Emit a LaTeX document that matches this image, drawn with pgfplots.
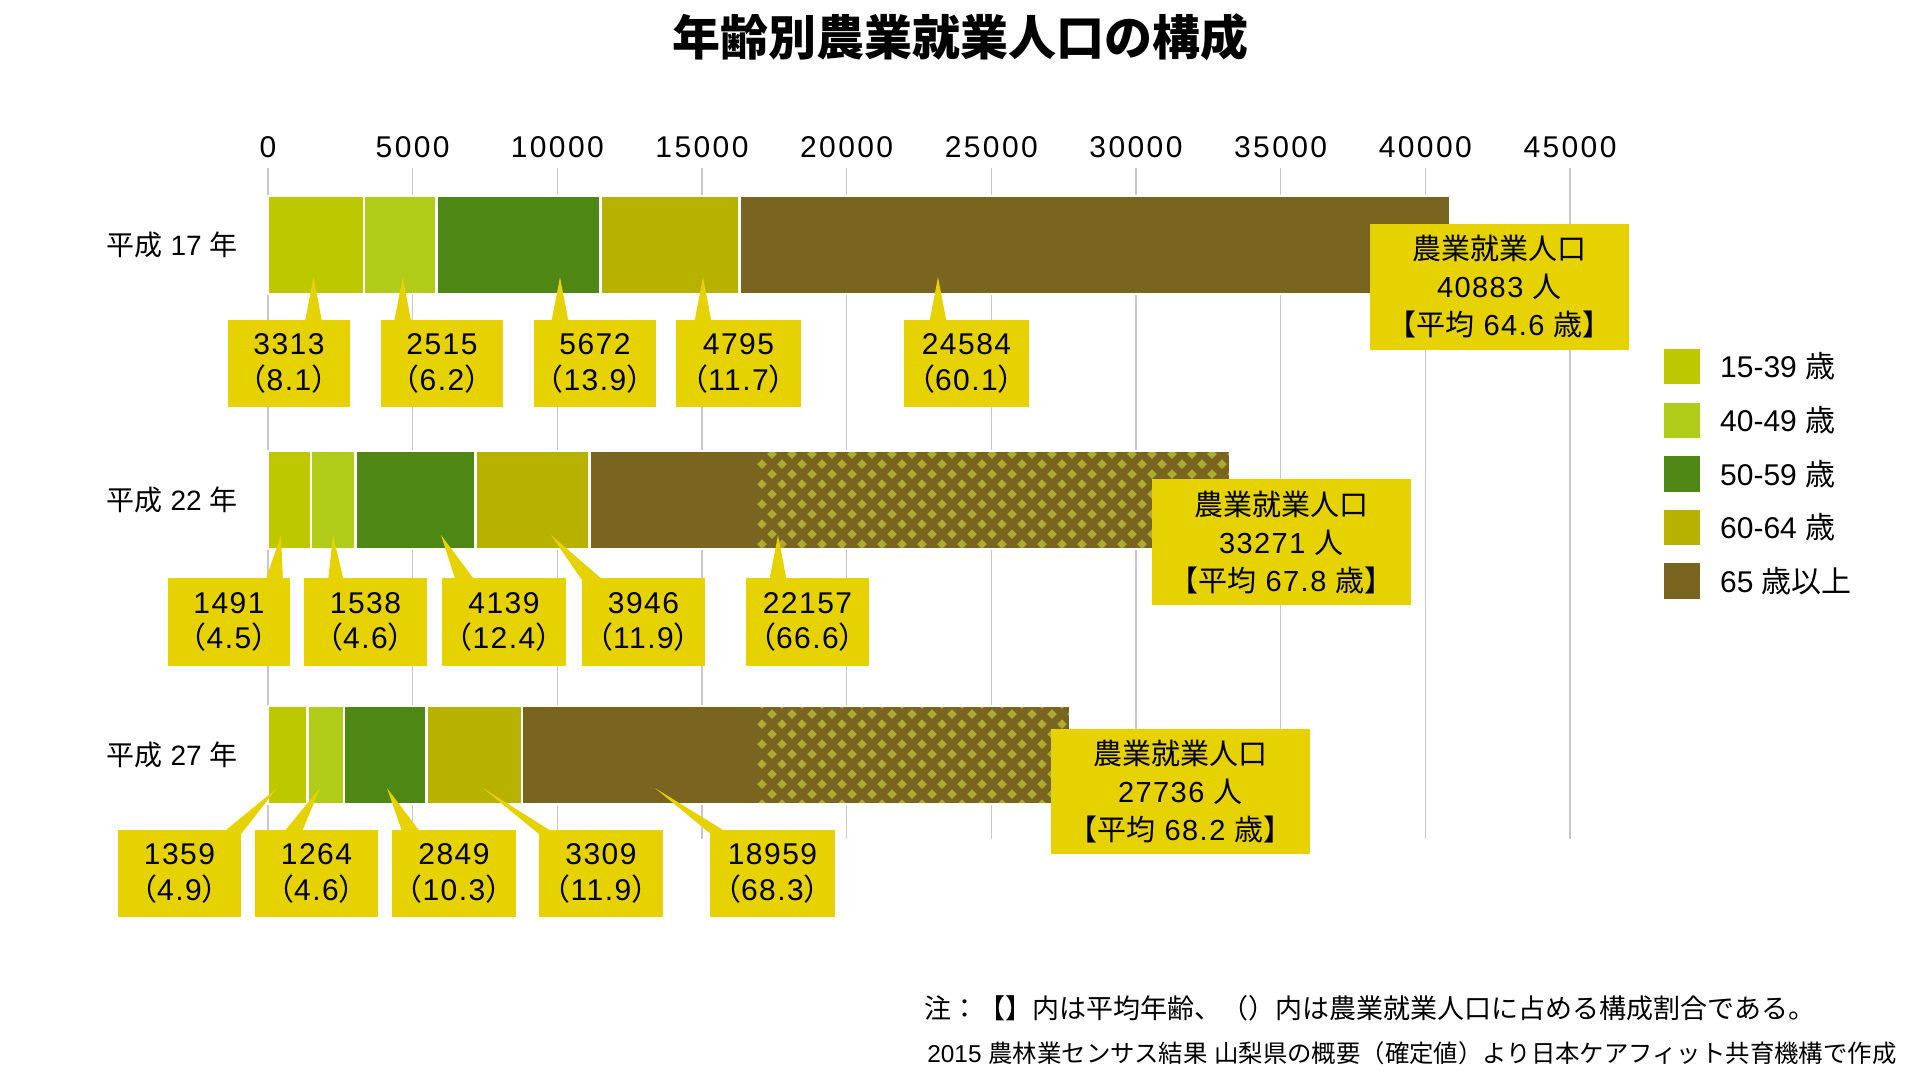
\documentclass[border=0pt]{standalone}
\usepackage{fontspec}
\setmainfont{Liberation Sans}
\newfontfamily\jp{Noto Sans CJK JP}
\newfontfamily\tickfont[LetterSpace=8]{Liberation Sans}
\newfontfamily\numfont[LetterSpace=5]{Liberation Sans}
\usepackage{pgfplots}
\pgfplotsset{compat=1.18}

\definecolor{c1bg}{RGB}{190,200,0}
\definecolor{c1fg}{RGB}{228,240,60}
\definecolor{c2bg}{RGB}{176,204,24}
\definecolor{c2fg}{RGB}{118,160,48}
\definecolor{c3bg}{RGB}{78,135,20}
\definecolor{c3fg}{RGB}{118,175,42}
\definecolor{c4bg}{RGB}{183,178,0}
\definecolor{c4fg}{RGB}{164,138,0}
\definecolor{c5bg}{RGB}{122,101,32}
\definecolor{c5fg}{RGB}{172,172,50}
\definecolor{callcol}{RGB}{230,210,0}
\definecolor{gridgray}{RGB}{200,200,200}

\newcommand\circat[3]{\pgfpathcircle{\pgfpoint{#1}{#2}}{#3}}
\newcommand\diam[3]{%
  \pgfpathmoveto{\pgfpoint{#1}{#2-#3}}%
  \pgfpathlineto{\pgfpoint{#1+#3}{#2}}%
  \pgfpathlineto{\pgfpoint{#1}{#2+#3}}%
  \pgfpathlineto{\pgfpoint{#1-#3}{#2}}%
  \pgfpathclose}

% texture fill inside a path (used as path picture of the bar style)
\newdimen\tpa \newdimen\tpb \newcount\tpn \newcount\tpm
\newcommand\tilepattern[5]{%
  \pgftransformreset
  \pgfpointanchor{path picture bounding box}{south west}\pgfgetlastxy{\tpx}{\tpy}%
  \pgfpointanchor{path picture bounding box}{north east}\pgfgetlastxy{\tpX}{\tpY}%
  \ifdim\tpx<800pt\relax
    \ifdim\tpx<#3\relax\def\tpx{#3}\fi
    \ifdim\tpX>#4\relax\def\tpX{#4}\fi
    \ifdim\tpy<-405pt\relax\def\tpy{-405pt}\fi
    \ifdim\tpY>-96pt\relax\def\tpY{-96pt}\fi
  \fi
  \tpb=\tpy \advance\tpb by -#2\relax
  \tpm=0
  \loop
    {\tpa=\tpx \advance\tpa by -#1\relax
     \tpn=0
     \loop
       \begin{pgfscope}\pgftransformshift{\pgfqpoint{\tpa}{\tpb}}#5\end{pgfscope}%
       \advance\tpa by #1\relax
       \advance\tpn by 1
     \ifnum\ifdim\tpa<\tpX 1\else 0\fi\ifnum\tpn<52 1\else 0\fi=11 \repeat}%
    \advance\tpb by #2\relax
    \advance\tpm by 1
  \ifnum\ifdim\tpb<\tpY 1\else 0\fi\ifnum\tpm<66 1\else 0\fi=11 \repeat}

\tikzset{
  texA/.style={path picture={\tilepattern{10pt}{10pt}{130pt}{186pt}{\pgfsetfillcolor{c1fg}\circat{0pt}{0pt}{2.75pt}\circat{5pt}{5pt}{2.75pt}\pgfusepath{fill}}}},
  texB/.style={path picture={\tilepattern{20pt}{20pt}{150pt}{222pt}{\pgfsetfillcolor{c2fg}\pgfpathrectangle{\pgfpoint{0pt}{0pt}}{\pgfpoint{10pt}{10pt}}\pgfpathrectangle{\pgfpoint{10pt}{10pt}}{\pgfpoint{10pt}{10pt}}\pgfusepath{fill}}}},
  texC/.style={path picture={\tilepattern{5pt}{5pt}{168pt}{304pt}{\pgfsetfillcolor{c3fg}\circat{0pt}{0pt}{1.6pt}\circat{2.5pt}{2.5pt}{1.6pt}\pgfusepath{fill}}}},
  texD/.style={path picture={\tilepattern{5pt}{60pt}{209pt}{374pt}{\pgfsetfillcolor{c4fg}\pgfpathrectangle{\pgfpoint{0pt}{0pt}}{\pgfpoint{2.2pt}{60pt}}\pgfusepath{fill}}}},
  texE/.style={path picture={\tilepattern{10pt}{10pt}{257pt}{730pt}{\pgfsetfillcolor{c5fg}\diam{0pt}{0pt}{2.4pt}\diam{5pt}{5pt}{2.4pt}\pgfusepath{fill}}}},
}

\newcommand\fs[2]{\fontsize{#1}{#2}\selectfont}
\newcommand\pct[1]{{\jp （}#1{\jp ）}}
% x1 x2 y1 y2 xc yc text
\newcommand\cbox[7]{%
  \fill[callcol] (axis cs:#1,#3) rectangle (axis cs:#2,#4);
  \node[align=center, inner sep=0pt, font=\numfont\fs{15pt}{17.8pt}] at (axis cs:#5,#6) {#7};}
\newcommand\cptr[5]{%
  \fill[callcol] (axis cs:#1,#3) -- (axis cs:#4,#5) -- (axis cs:#2,#3) -- cycle;}
\newcommand\tbox[8]{%
  \fill[callcol] (axis cs:#1,#3) rectangle (axis cs:#2,#4);
  \node[align=center, inner sep=0pt, font=\numfont\fs{14.5pt}{19pt}] at (axis cs:#5,#6)
    {{\jp 農業就業人口}\\#7 {\jp 人}\\{\jp 【平均} #8 {\jp 歳】}};}
\newcommand\lblA{{\jp 平成} 17 {\jp 年}}
\newcommand\lblB{{\jp 平成} 22 {\jp 年}}
\newcommand\lblC{{\jp 平成} 27 {\jp 年}}

\pgfplotsset{geom/.style={
  at={(134pt,-84pt)}, anchor=north west,
  scale only axis, width=651pt, height=335.5pt,
  xmin=0, xmax=45000, ymin=-0.302, ymax=2.329, y dir=reverse,
  clip=false}}

\begin{document}
\begin{tikzpicture}
\path[use as bounding box] (0pt,0pt) rectangle (960pt,-540pt);
\begin{axis}[
  geom,
  xbar stacked, bar width=49pt,
  axis line style={draw=none},
  major tick length=0pt,
  scaled x ticks=false,
  xtick={0,5000,10000,15000,20000,25000,30000,35000,40000,45000},
  xticklabels={0,5000,10000,15000,20000,25000,30000,35000,40000,45000},
  xticklabel pos=right,
  xticklabel style={font=\tickfont\fs{15pt}{15pt}, inner sep=0pt, anchor=south, yshift=5pt},
  xmajorgrids, grid style={line width=0.75pt, gridgray},
  ytick={0,1,2}, yticklabels={\lblA,\lblB,\lblC},
  yticklabel style={font=\fs{14pt}{14pt}, inner sep=0pt, anchor=east, xshift=-15pt},
  title={年齢別農業就業人口の構成},
  title style={at={(0.5315,1.1773)}, anchor=center, inner sep=0pt, font=\jp\bfseries\fs{24pt}{24pt}},
  legend style={at={(1.0700,0.7347)}, anchor=north west, draw=none, fill=none,
    inner sep=0pt, row sep=6.5pt, column sep=9pt, font=\fs{15pt}{15pt},
    nodes={inner sep=0pt}},
  legend cell align=left,
  legend image code/.code={\draw[#1] (0pt,-9.5pt) rectangle (19pt,9.5pt);},
]
\addplot[fill=c1bg, draw=none, texA, postaction={draw=white, line width=1.3pt}]
  coordinates {(3313,0) (1491,1) (1359,2)};
\addplot[fill=c2bg, draw=none, texB, postaction={draw=white, line width=1.3pt}]
  coordinates {(2515,0) (1538,1) (1264,2)};
\addplot[fill=c3bg, draw=none, texC, postaction={draw=white, line width=1.3pt}]
  coordinates {(5672,0) (4139,1) (2849,2)};
\addplot[fill=c4bg, draw=none, texD, postaction={draw=white, line width=1.3pt}]
  coordinates {(4795,0) (3946,1) (3309,2)};
\addplot[fill=c5bg, draw=none, texE, postaction={draw=white, line width=1.3pt}]
  coordinates {(24584,0) (22157,1) (18959,2)};
\legend{15-39 {\jp 歳}, 40-49 {\jp 歳}, 50-59 {\jp 歳}, 60-64 {\jp 歳}, 65 {\jp 歳以上}}
\end{axis}

\begin{axis}[geom, hide axis]
% row 1
\cptr{1261.6}{1883.7}{0.31}{1572.6}{0.1255}
\cptr{4344.3}{4966.4}{0.31}{4655.4}{0.1255}
\cptr{9781}{10403.2}{0.31}{10092.1}{0.1255}
\cptr{14723.4}{15345.5}{0.31}{15034.5}{0.1255}
\cptr{22845.5}{23467.6}{0.31}{23156.6}{0.1255}
\cbox{-1382.5}{2834.1}{0.2941}{0.6353}{725.8}{0.4647}{3313\\\pct{8.1}}
\cbox{3905.5}{8122.1}{0.2941}{0.6353}{6013.8}{0.4647}{2515\\\pct{6.2}}
\cbox{9193.5}{13410.1}{0.2941}{0.6353}{11301.8}{0.4647}{5672\\\pct{13.9}}
\cbox{14101.3}{18421.6}{0.2941}{0.6353}{16261.45}{0.4647}{4795\\\pct{11.7}}
\cbox{21981.4}{26301.7}{0.2941}{0.6353}{24141.55}{0.4647}{24584\\\pct{60.1}}
% row 2
\cptr{-103.7}{518.4}{1.32}{449.3}{1.1373}
\cptr{2073.7}{2626.7}{1.32}{2246.5}{1.1373}
\cptr{6497.7}{7188.9}{1.32}{5979.2}{1.1373}
\cptr{10887.0}{11647.4}{1.32}{9781.1}{1.1373}
\cptr{17315.6}{17937.7}{1.32}{17626.7}{1.1373}
\cbox{-3456.2}{760.0}{1.3059}{1.6510}{-1348.1}{1.4785}{1491\\\pct{4.5}}
\cbox{1244.2}{5495.4}{1.3059}{1.6510}{3369.8}{1.4785}{1538\\\pct{4.6}}
\cbox{6013.8}{10299.5}{1.3059}{1.6510}{8156.65}{1.4785}{4139\\\pct{12.4}}
\cbox{10852.5}{15103.6}{1.3059}{1.6510}{12978.05}{1.4785}{3946\\\pct{11.9}}
\cbox{16520.7}{20771.8}{1.3059}{1.6510}{18646.25}{1.4785}{22157\\\pct{66.6}}
% row 3
\cptr{-1624.4}{-933.2}{2.31}{311.0}{2.1294}
\cptr{483.8}{1140.5}{2.31}{1797.2}{2.1294}
\cptr{4665.9}{5322.6}{2.31}{4112.9}{2.1294}
\cptr{9366.3}{9953.9}{2.31}{7430.8}{2.1294}
\cptr{15311.0}{15967.6}{2.31}{13375.4}{2.1294}
\cbox{-5184.3}{-933.2}{2.2941}{2.6353}{-3058.75}{2.4647}{1359\\\pct{4.9}}
\cbox{-449.3}{3801.8}{2.2941}{2.6353}{1676.25}{2.4647}{1264\\\pct{4.6}}
\cbox{4285.7}{8571.4}{2.2941}{2.6353}{6428.55}{2.4647}{2849\\\pct{10.3}}
\cbox{9366.3}{13651.9}{2.2941}{2.6353}{11509.1}{2.4647}{3309\\\pct{11.9}}
\cbox{15276.4}{19596.7}{2.2941}{2.6353}{17436.55}{2.4647}{18959\\\pct{68.3}}
% totals
\tbox{38087.3}{47038.9}{-0.0824}{0.4118}{42563.1}{0.1647}{40883}{64.6}
\tbox{30552.6}{39504.2}{0.9176}{1.4118}{35028.4}{1.1647}{33271}{67.8}
\tbox{27061.8}{36013.4}{1.8980}{2.3882}{31537.6}{2.1431}{27736}{68.2}

\node[anchor=west, inner sep=0pt, font=\jp\fs{13.5pt}{14pt}] at (axis description cs:0.5042,-0.2519)
  {注：【】内は平均年齢、（）内は農業就業人口に占める構成割合である。};
\node[anchor=west, inner sep=0pt, font=\fs{12.2pt}{13pt}] at (axis description cs:0.5061,-0.3189)
  {2015 {\jp 農林業センサス結果} {\jp 山梨県の概要（確定値）より日本ケアフィット共育機構で作成}};
\end{axis}
\end{tikzpicture}
\end{document}
